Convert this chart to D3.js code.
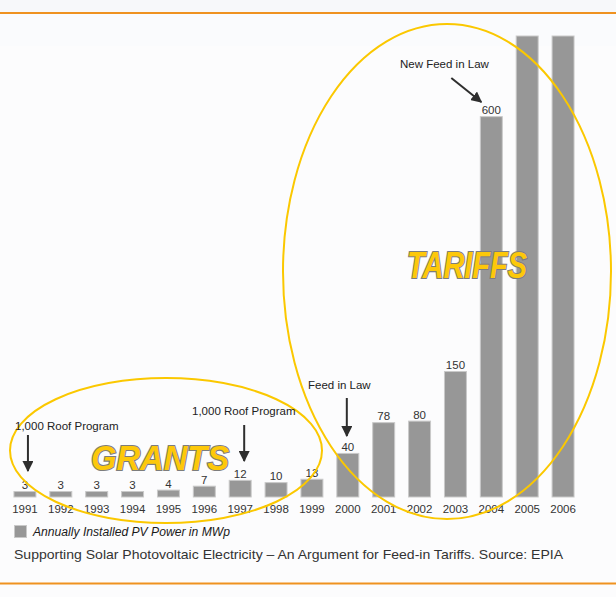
<!DOCTYPE html>
<html>
<head>
<meta charset="utf-8">
<script src="https://cdn.jsdelivr.net/npm/d3@7/dist/d3.min.js"></script>
<style>
  html, body { margin: 0; padding: 0; background: #fcfcfd; }
  svg { display: block; }
</style>
</head>
<body>
<svg id="chart" width="616" height="597"></svg>
<script>
// ---- data ----
const years = ["1991","1992","1993","1994","1995","1996","1997","1998","1999","2000","2001","2002","2003","2004","2005","2006"];
const installedMWp = [3, 3, 3, 3, 4, 7, 12, 10, 13, 40, 78, 80, 150, 600, 837, 850];
// labels shown above bars (2005/2006 run off the top of the chart, unlabeled)
const valueLabels = ["3","3","3","3","4","7","12","10","13","40","78","80","150","600","",""];
const annotationYears = ["1991", "1997", "2000", "2004"];
const annotationTexts = ["1,000 Roof Program", "1,000 Roof Program", "Feed in Law", "New Feed in Law"];
const legendLabel = "Annually Installed PV Power in MWp";
const caption = "Supporting Solar Photovoltaic Electricity \u2013 An Argument for Feed-in Tariffs. Source: EPIA";
const groupLabels = ["GRANTS", "TARIFFS"];

// ---- setup ----
const svg = d3.select("#chart");
const W = 616, H = 597;
const FONT = "'Liberation Sans', Arial, Helvetica, sans-serif";

svg.append("rect").attr("x", 0).attr("y", 0).attr("width", W).attr("height", H).attr("fill", "#fcfcfd");
svg.append("rect").attr("x", 0).attr("y", 0).attr("width", W).attr("height", 13).attr("fill", "#f7f8fa");
svg.append("rect").attr("x", 0).attr("y", 14).attr("width", W).attr("height", 32).attr("fill", "#fafbfd");

// orange rules
svg.append("line").attr("x1", 0).attr("x2", W).attr("y1", 13).attr("y2", 13)
  .attr("stroke", "#ef9220").attr("stroke-width", 2.2);
svg.append("line").attr("x1", 0).attr("x2", W).attr("y1", 583.5).attr("y2", 583.5)
  .attr("stroke", "#ef9220").attr("stroke-width", 2.2);

// scales
const x = d3.scaleBand().domain(years).range([7, 581]).paddingInner(0.36).paddingOuter(0.18);
const y = d3.scalePow().exponent(0.8).domain([0, 763]).range([497, 36]).clamp(true);

const data = years.map((yr, i) => ({ year: yr, value: installedMWp[i], label: valueLabels[i] }));

// bars
svg.append("g").selectAll("rect").data(data).join("rect")
  .attr("x", d => x(d.year) + 0.5)
  .attr("y", d => y(d.value))
  .attr("width", x.bandwidth() - 1)
  .attr("height", d => y(0) - y(d.value))
  .attr("fill", "#979797")
  .attr("stroke", "#c9c9c9")
  .attr("stroke-width", 1);

// value labels
svg.append("g").selectAll("text").data(data.filter(d => d.label)).join("text")
  .attr("x", d => x(d.year) + x.bandwidth() / 2)
  .attr("y", d => y(d.value) - 2.5)
  .attr("text-anchor", "middle")
  .attr("font-family", FONT).attr("font-size", 11.5)
  .attr("fill", "#333")
  .text(d => d.label);

// x-axis year labels (no axis line)
const xAxis = d3.axisBottom(x).tickSize(0).tickPadding(0);
const gx = svg.append("g").attr("transform", "translate(0,503)").call(xAxis);
gx.select(".domain").remove();
gx.selectAll("text")
  .attr("y", 10)
  .attr("dy", 0)
  .attr("font-family", FONT).attr("font-size", 11.5)
  .attr("fill", "#333");

// ellipses
const ellipseColor = "#fbc800";
svg.append("ellipse").attr("cx", 166).attr("cy", 450.5).attr("rx", 156).attr("ry", 72.5)
  .attr("fill", "none").attr("stroke", ellipseColor).attr("stroke-width", 2);
svg.append("ellipse").attr("cx", 447).attr("cy", 271.5).attr("rx", 164).attr("ry", 247.5)
  .attr("fill", "none").attr("stroke", ellipseColor).attr("stroke-width", 2);

// big group labels
function bigLabel(txt, xx, yy, len, fs) {
  svg.append("text")
    .attr("x", xx).attr("y", yy)
    .attr("font-family", FONT).attr("font-size", fs)
    .attr("font-weight", "bold").attr("font-style", "italic")
    .attr("fill", "#fdc80a").attr("stroke", "#7d7d7d").attr("stroke-width", 2.2)
    .attr("paint-order", "stroke")
    .attr("textLength", len).attr("lengthAdjust", "spacingAndGlyphs")
    .text(txt);
}
bigLabel(groupLabels[0], 91, 470, 138, 35);
bigLabel(groupLabels[1], 407, 278, 120, 36);

// annotations with arrows
svg.append("defs").append("marker")
  .attr("id", "ah").attr("viewBox", "0 0 10 10").attr("refX", 9).attr("refY", 5)
  .attr("markerUnits", "userSpaceOnUse").attr("markerWidth", 11).attr("markerHeight", 11)
  .attr("orient", "auto")
  .append("path").attr("d", "M0,0 L10,5 L0,10 Z").attr("fill", "#2e2e2e");

const annLayout = [
  { tx: 15, ty: 430, ax1: 3, ay1: 435, ax2: 3, ay2: 471 },
  { tx: 192, ty: 415, ax1: 4, ay1: 425, ax2: 4, ay2: 461 },
  { tx: 308, ty: 389, ax1: -1, ay1: 398, ax2: -1, ay2: 436 },
  { tx: 400, ty: 68, ax1: -40, ay1: 78, ax2: -10, ay2: 102 }
];
annotationYears.forEach((yr, i) => {
  const L = annLayout[i];
  const cx = x(yr) + x.bandwidth() / 2;
  svg.append("text")
    .attr("x", L.tx).attr("y", L.ty)
    .attr("font-family", FONT).attr("font-size", 11.5)
    .attr("fill", "#222")
    .text(annotationTexts[i]);
  svg.append("line")
    .attr("x1", cx + L.ax1).attr("y1", L.ay1)
    .attr("x2", cx + L.ax2).attr("y2", L.ay2)
    .attr("stroke", "#2e2e2e").attr("stroke-width", 2)
    .attr("marker-end", "url(#ah)");
});

// legend
svg.append("rect").attr("x", 14.5).attr("y", 525.5).attr("width", 12).attr("height", 12)
  .attr("fill", "#979797").attr("stroke", "#c9c9c9");
svg.append("text").attr("x", 33).attr("y", 536)
  .attr("font-family", FONT).attr("font-size", 12).attr("font-style", "italic")
  .attr("fill", "#1a1a1a")
  .attr("textLength", 197).attr("lengthAdjust", "spacingAndGlyphs")
  .text(legendLabel);

// caption
svg.append("text").attr("x", 14).attr("y", 559)
  .attr("font-family", FONT).attr("font-size", 13)
  .attr("fill", "#333")
  .attr("textLength", 549).attr("lengthAdjust", "spacingAndGlyphs")
  .text(caption);
</script>
</body>
</html>
